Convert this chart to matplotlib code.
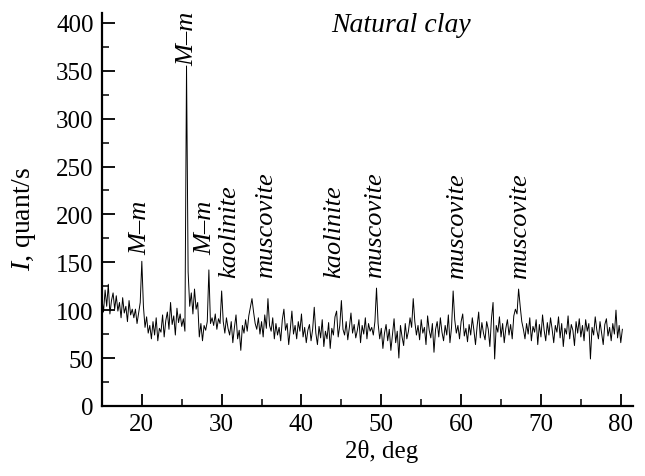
import numpy as np
import matplotlib
matplotlib.use("Agg")
import matplotlib.pyplot as plt
from matplotlib.ticker import MultipleLocator

plt.rcParams['font.family'] = ['Liberation Serif', 'DejaVu Serif']
plt.rcParams['mathtext.fontset'] = 'custom'
plt.rcParams['mathtext.it'] = 'Liberation Serif:italic'
plt.rcParams['mathtext.rm'] = 'Liberation Serif'

# XRD scan, 0.2 deg step starting at 15 deg
scan_start = 15.0
scan_step = 0.2
intensity = [
    112, 98, 121, 104, 127, 96, 110, 118, 101, 115,    # 15
    99, 108, 92, 113, 97, 104, 88, 110, 95, 101,       # 17
    92, 101, 86, 97, 108, 151, 104, 82, 93, 76,        # 19
    84, 70, 88, 74, 92, 68, 81, 77, 95, 72,            # 21
    89, 98, 80, 108, 85, 94, 74, 102, 87, 96,          # 23
    83, 91, 78, 355, 140, 104, 118, 96, 122, 101,      # 25
    108, 72, 86, 68, 84, 79, 88, 142, 86, 92,          # 27
    84, 96, 80, 91, 86, 120, 88, 76, 92, 81,           # 29
    74, 88, 66, 82, 95, 70, 79, 58, 84, 76,            # 31
    90, 78, 94, 103, 112, 98, 86, 80, 92, 75,          # 33
    88, 72, 95, 81, 112, 84, 78, 92, 70, 86,           # 35
    74, 82, 68, 90, 101, 79, 86, 64, 80, 99,           # 37
    75, 84, 70, 88, 78, 96, 72, 82, 66, 79,            # 39
    85, 68, 80, 103, 76, 64, 83, 71, 90, 62,           # 41
    78, 70, 87, 60, 81, 74, 93, 99, 72, 84,            # 43
    110, 80, 74, 88, 69, 82, 97, 76, 85, 71,           # 45
    79, 90, 66, 84, 75, 92, 70, 86, 78, 82,            # 47
    74, 88, 123, 86, 70, 81, 60, 76, 85, 68,           # 49
    80, 58, 74, 91, 66, 78, 50, 84, 72, 63,            # 51
    86, 70, 78, 92, 82, 112, 88, 74, 84, 69,           # 53
    90, 76, 82, 64, 94, 79, 71, 86, 56, 80,            # 55
    88, 72, 92, 77, 68, 84, 74, 95, 66, 82,            # 57
    120, 90, 76, 84, 70, 88, 96, 73, 81, 67,           # 59
    85, 74, 92, 79, 64, 83, 98, 71, 87, 76,            # 61
    69, 88, 80, 62, 91, 108, 49, 84, 77, 93,           # 63
    72, 86, 66, 81, 90, 74, 85, 70, 94, 101,           # 65
    96, 122, 104, 88, 80, 70, 86, 75, 92, 68,          # 67
    83, 77, 90, 64, 85, 72, 95, 79, 68, 87,            # 69
    74, 92, 80, 66, 84, 77, 93, 71, 86, 62,            # 71
    81, 75, 94, 70, 85, 79, 63, 88, 76, 91,            # 73
    72, 84, 68, 90, 78, 86, 49, 82, 74, 93,            # 75
    79, 70, 88, 76, 64, 85, 91, 73, 82, 68,            # 77
    86, 75, 100, 71, 84, 66, 80,                       # 79
]
two_theta = np.round(scan_start + scan_step * np.arange(len(intensity)), 1)

# phase labels: text, x position (deg), bottom of text (counts)
phase_names = ['M–m', 'M–m', 'M–m', 'kaolinite', 'muscovite',
               'kaolinite', 'muscovite', 'muscovite', 'muscovite']
phase_x = [19.8, 25.75, 27.9, 30.9, 35.5, 44.1, 49.25, 59.5, 67.4]
phase_y = [159, 356, 159, 135, 135, 135, 135, 134, 134]

fig = plt.figure(figsize=(6.45, 4.77), dpi=100)
ax = fig.add_axes([0.158, 0.147, 0.823, 0.823])

ax.plot(two_theta, intensity, color='black', lw=0.7)

for name, px, py in zip(phase_names, phase_x, phase_y):
    ax.text(px, py, name, rotation=90, ha='center', va='bottom',
            fontsize=19, style='italic')

ax.text(52.5, 398, 'Natural clay', ha='center', va='center',
        fontsize=20, style='italic')

ax.set_xlim(15, 81.5)
ax.set_ylim(0, 410)
ax.xaxis.set_minor_locator(MultipleLocator(5))
ax.yaxis.set_minor_locator(MultipleLocator(25))
ax.set_xticks(np.arange(20, 81, 10))
ax.set_yticks(np.arange(0, 401, 50))

ax.spines['top'].set_visible(False)
ax.spines['right'].set_visible(False)
ax.spines['left'].set_linewidth(1.6)
ax.spines['bottom'].set_linewidth(1.6)
ax.tick_params(which='major', direction='in', length=9, width=1.3, labelsize=18)
ax.tick_params(axis='y', which='major', pad=6)
ax.tick_params(axis='x', which='major', pad=5)
ax.tick_params(which='minor', direction='in', length=5, width=1.1)

ax.set_xlabel('2θ, deg', fontsize=18)
ax.set_ylabel('$I$, quant/s', fontsize=20)
ax.xaxis.set_label_coords(0.526, -0.085)
ax.yaxis.set_label_coords(-0.12, 0.48)

fig.savefig('out.png', dpi=100)
